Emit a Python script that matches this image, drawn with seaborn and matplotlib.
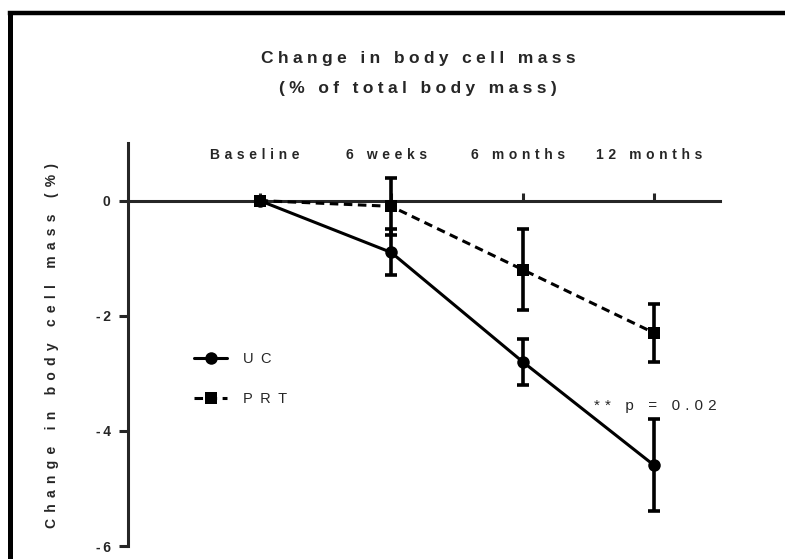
import matplotlib
matplotlib.use("Agg")
import matplotlib.pyplot as plt
import matplotlib.transforms as mtransforms
from matplotlib.lines import Line2D
import numpy as np
import pandas as pd
import seaborn as sns

# ---- data -------------------------------------------------------------
timepoints = ["Baseline", "6 weeks", "6 months", "12 months"]
groups = ["UC", "PRT"]
uc_mean = [0.0, -0.9, -2.8, -4.6]
uc_err = [0.0, 0.4, 0.4, 0.8]
prt_mean = [0.0, -0.1, -1.2, -2.3]
prt_err = [0.0, 0.5, 0.7, 0.5]
y_ticks = [0, -2, -4, -6]
y_tick_labels = ["0", "-2", "-4", "-6"]
title_lines = ["Change in body cell mass", "(% of total body mass)"]
y_label = "Change in body cell mass (%)"
p_note = "** p = 0.02"

# ---- styling ------------------------------------------------------------
sns.set_style("ticks")
plt.rcParams["font.family"] = ["Liberation Sans", "DejaVu Sans"]

THIN = "\u2009"        # 1/5 em
QUARTER = "\u2005"     # 1/4 em
THIRD = "\u2004"       # 1/3 em
EN = "\u2002"          # 1/2 em


def spaced(text, gap=THIN):
    """Letter-spaced version of a label."""
    return gap.join(text)


positions = np.arange(len(timepoints))
df = pd.DataFrame({
    "pos": np.concatenate([positions, positions]),
    "change": uc_mean + prt_mean,
    "err": uc_err + prt_err,
    "group": [groups[0]] * len(positions) + [groups[1]] * len(positions),
})

fig = plt.figure(figsize=(7.85, 5.59), dpi=100)
ax = fig.add_axes([128 / 785, 1 - 546 / 559, (720 - 128) / 785, (546 - 143) / 559])

# error bars (only where a spread exists)
for g in groups:
    sub = df[(df["group"] == g) & (df["err"] > 0)]
    ax.errorbar(sub["pos"], sub["change"], yerr=sub["err"], fmt="none",
                ecolor="black", elinewidth=2.6, capsize=4.5, capthick=2.6,
                zorder=2)

sns.lineplot(data=df, x="pos", y="change", hue="group", style="group",
             hue_order=groups, style_order=groups,
             palette={"UC": "black", "PRT": "black"},
             markers={"UC": "o", "PRT": "s"},
             dashes={"UC": "", "PRT": (2.8, 1.8)},
             linewidth=2.2, markersize=9, markeredgewidth=0,
             errorbar=None, ax=ax, zorder=3)

ax.set_xlim(-1, 3.5)
ax.set_ylim(-6, 1)

# x axis sits on y = 0 with labels above it
ax.spines["top"].set_position(("data", 0))
ax.spines["bottom"].set_visible(False)
ax.spines["right"].set_visible(False)
for s in ("top", "left"):
    ax.spines[s].set_linewidth(2.2)
ax.xaxis.tick_top()
ax.set_xticks(positions)
ax.set_xticklabels([spaced(t, THIRD) for t in timepoints], fontweight="bold", fontsize=10)
ax.tick_params(axis="x", direction="out", length=6, width=2.2, pad=22)
shift = mtransforms.ScaledTranslation(-5 / 100, 0, fig.dpi_scale_trans)
for lbl in ax.get_xticklabels():
    lbl.set_transform(lbl.get_transform() + shift)
ax.set_xlabel("")

ax.set_yticks(y_ticks)
ax.set_yticklabels([spaced(t) for t in y_tick_labels], fontweight="bold", fontsize=10)
ax.tick_params(axis="y", direction="out", length=6.5, width=2.2, pad=6)
ax.set_ylabel("")

fig.text(52 / 785, 1 - 346 / 559, spaced(y_label, THIN + QUARTER), rotation=90,
         ha="center", va="center", fontweight="bold", fontsize=10)

fig.text(418 / 785, 1 - 58 / 559, spaced(title_lines[0], QUARTER), ha="center",
         va="center", fontweight="bold", fontsize=12.5)
fig.text(418 / 785, 1 - 89 / 559, spaced(title_lines[1], QUARTER), ha="center",
         va="center", fontweight="bold", fontsize=12.5)

handles, labels = ax.get_legend_handles_labels()
ax.legend(handles, [spaced(l, EN) for l in labels], loc="upper left",
          bbox_to_anchor=(0.1, 0.5), frameon=False, fontsize=10.5,
          handlelength=2.2, handletextpad=1.1, labelspacing=1.8, borderpad=0)

ax.text(3.475, -3.57, spaced(p_note, THIRD), ha="right", va="center", fontsize=11)

# outer frame (left and top edges)
fig.add_artist(Line2D([9.5 / 785, 9.5 / 785], [0, 1 - 13 / 559], color="black",
                      lw=3.6, transform=fig.transFigure, solid_capstyle="projecting"))
fig.add_artist(Line2D([9.5 / 785, 1], [1 - 13 / 559, 1 - 13 / 559], color="black",
                      lw=3.2, transform=fig.transFigure, solid_capstyle="projecting"))

fig.savefig("out.png", dpi=100)
